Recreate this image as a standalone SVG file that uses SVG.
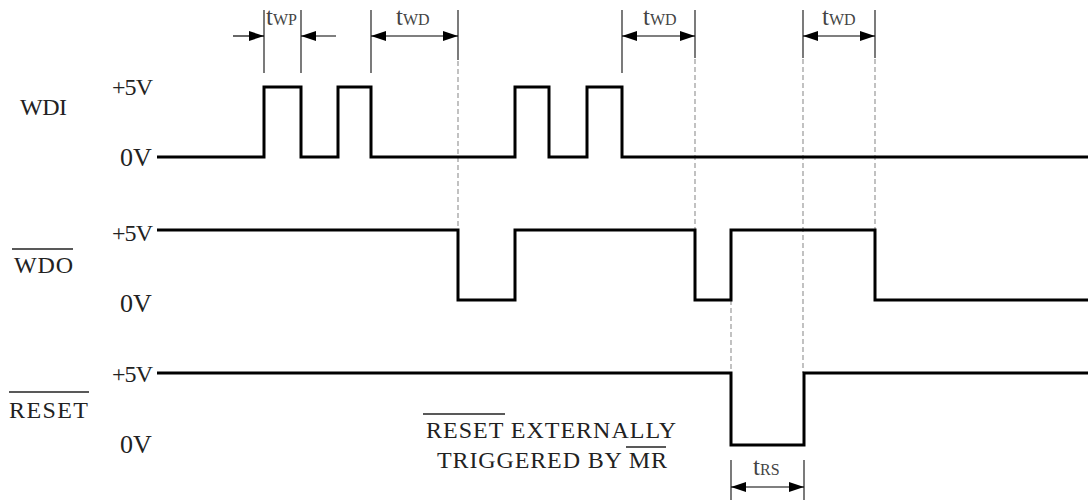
<svg xmlns="http://www.w3.org/2000/svg" width="1088" height="502" viewBox="0 0 1088 502">
<defs>
<marker id="ah" viewBox="0 0 15 10" refX="15" refY="5" markerWidth="15" markerHeight="10" markerUnits="userSpaceOnUse" orient="auto-start-reverse">
<path d="M0,0 L15,5 L0,10 Z" fill="#000"/>
</marker>
<style>
.wave{fill:none;stroke:#000;stroke-width:3;stroke-linejoin:miter}
.tick{stroke:#222;stroke-width:1.2}
.dash{stroke:#999;stroke-width:1.2;stroke-dasharray:5,3}
.arr{stroke:#000;stroke-width:1.2;fill:none}
.lbl{font-family:"Liberation Serif",serif;font-size:24px;fill:#222}
.zv{font-family:"Liberation Serif",serif;font-size:26px;fill:#222}
.t{font-family:"Liberation Serif",serif;font-size:25px;fill:#444}
.sub{font-family:"Liberation Serif",serif;font-size:16px;fill:#444}
.ov{stroke:#222;stroke-width:1.5}
</style>
</defs>
<rect width="1088" height="502" fill="#fff"/>

<g id="connectors">
<line class="tick" x1="264" y1="10" x2="264" y2="73"/>
<line class="tick" x1="301" y1="10" x2="301" y2="73"/>
<line class="tick" x1="371" y1="10" x2="371" y2="73"/>
<line class="tick" x1="458" y1="10" x2="458" y2="60"/>
<line class="tick" x1="622" y1="10" x2="622" y2="73"/>
<line class="tick" x1="695" y1="10" x2="695" y2="58"/>
<line class="tick" x1="803" y1="10" x2="803" y2="58"/>
<line class="tick" x1="875" y1="10" x2="875" y2="58"/>
<line class="tick" x1="731" y1="460" x2="731" y2="500"/>
<line class="tick" x1="804" y1="460" x2="804" y2="500"/>
<line class="dash" x1="458" y1="61" x2="458" y2="230"/>
<line class="dash" x1="695" y1="59" x2="695" y2="230"/>
<line class="dash" x1="803" y1="59" x2="803" y2="373"/>
<line class="dash" x1="875" y1="59" x2="875" y2="230"/>
<line class="dash" x1="731" y1="300" x2="731" y2="373"/>
<line class="arr" x1="233" y1="36" x2="264" y2="36" marker-end="url(#ah)"/>
<line class="arr" x1="336" y1="36" x2="301" y2="36" marker-end="url(#ah)"/>
<line class="arr" x1="371" y1="36" x2="458" y2="36" marker-start="url(#ah)" marker-end="url(#ah)"/>
<line class="arr" x1="622" y1="36" x2="695" y2="36" marker-start="url(#ah)" marker-end="url(#ah)"/>
<line class="arr" x1="803" y1="36" x2="875" y2="36" marker-start="url(#ah)" marker-end="url(#ah)"/>
<line class="arr" x1="731" y1="487" x2="804" y2="487" marker-start="url(#ah)" marker-end="url(#ah)"/>
</g>

<g id="timing-labels">
<text x="266" y="25"><tspan class="t">t</tspan><tspan class="sub">WP</tspan></text>
<text x="396" y="25"><tspan class="t">t</tspan><tspan class="sub">WD</tspan></text>
<text x="643" y="25"><tspan class="t">t</tspan><tspan class="sub">WD</tspan></text>
<text x="822" y="25"><tspan class="t">t</tspan><tspan class="sub">WD</tspan></text>
<text x="753" y="475"><tspan class="t">t</tspan><tspan class="sub">RS</tspan></text>
</g>

<g id="wdi">
<text class="lbl" x="20" y="115" textLength="47">WDI</text>
<text class="lbl" x="112" y="95" textLength="41">+5V</text>
<text class="zv" x="120" y="166">0V</text>
<path class="wave" d="M157,157 H264 V87 H301 V157 H338 V87 H371 V157 H515 V87 H549 V157 H587 V87 H622 V157 H1088"/>
</g>

<g id="wdo">
<line class="ov" x1="12" y1="249" x2="73" y2="249"/>
<text class="lbl" x="14" y="273" textLength="59">WDO</text>
<text class="lbl" x="112" y="241" textLength="41">+5V</text>
<text class="zv" x="120" y="312">0V</text>
<path class="wave" d="M157,230 H458 V300 H515 V230 H695 V300 H731 V230 H875 V300 H1088"/>
</g>

<g id="reset">
<line class="ov" x1="9" y1="392" x2="89" y2="392"/>
<text class="lbl" x="9" y="418" textLength="79">RESET</text>
<text class="lbl" x="112" y="382" textLength="41">+5V</text>
<text class="zv" x="120" y="453">0V</text>
<path class="wave" d="M157,373 H731 V445 H804 V373 H1088"/>
</g>

<g id="note">
<line class="ov" x1="423" y1="414" x2="505" y2="414"/>
<text class="lbl" x="426" y="438" textLength="250">RESET EXTERNALLY</text>
<line class="ov" x1="626" y1="447" x2="666" y2="447"/>
<text class="lbl" x="437" y="468" textLength="230">TRIGGERED BY MR</text>
</g>
</svg>
